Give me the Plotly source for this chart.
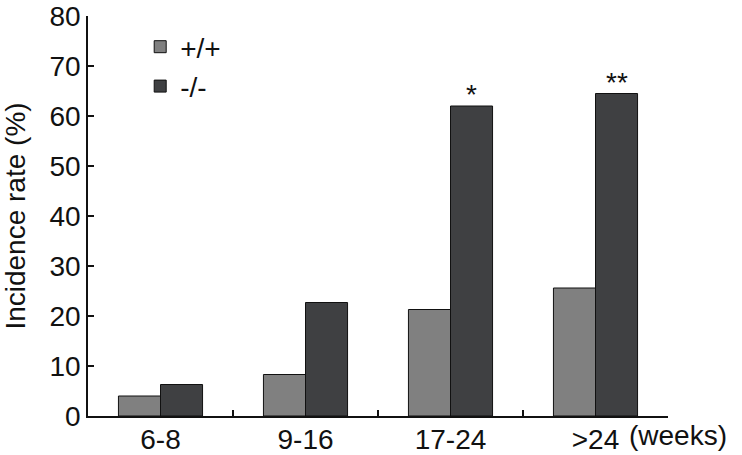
import plotly.graph_objects as go

categories = ["6-8", "9-16", "17-24", ">24"]
wt_values = [4.0, 8.3, 21.3, 25.6]
ko_values = [6.3, 22.7, 62.0, 64.5]
series_names = ["+/+", "-/-"]
sig_labels = ["", "", "*", "**"]
y_ticks = [0, 10, 20, 30, 40, 50, 60, 70, 80]

FONT = "Liberation Sans, Arial, Helvetica, sans-serif"
FS = 28

fig = go.Figure()
fig.add_trace(go.Bar(x=categories, y=wt_values, name=series_names[0],
                     marker=dict(color="#808080", line=dict(color="#111111", width=1)),
                     legendgroup="a"))
fig.add_trace(go.Bar(x=categories, y=ko_values, name=series_names[1],
                     marker=dict(color="#3f4042", line=dict(color="#111111", width=1)),
                     legendgroup="b"))

for cat, val, lab in zip(categories, ko_values, sig_labels):
    if lab:
        fig.add_annotation(x=cat, y=val, text=lab, showarrow=False, xref="x", yref="y",
                           xshift=21, yanchor="bottom", yshift=-6,
                           font=dict(family=FONT, size=FS, color="#111111"))

fig.add_annotation(x=0.93, y=0, xref="paper", yref="paper", text="(weeks)",
                   showarrow=False, xanchor="left", yanchor="top", yshift=-2,
                   font=dict(family=FONT, size=FS, color="#111111"))

fig.update_layout(
    width=742, height=455,
    margin=dict(l=88, r=74, t=16, b=39, autoexpand=False),
    plot_bgcolor="white", paper_bgcolor="white",
    barmode="group", bargap=0.42, bargroupgap=0,
    font=dict(family=FONT, size=FS, color="#111111"),
    legend=dict(x=0.09, y=0.985, xanchor="left", yanchor="top",
                bgcolor="rgba(0,0,0,0)", traceorder="grouped", tracegroupgap=0,
                font=dict(family=FONT, size=FS, color="#111111"), itemwidth=30),
    showlegend=True,
)
fig.update_xaxes(showline=True, linecolor="#111111", linewidth=1.5, automargin=False,
                 ticks="inside", tickson="boundaries", ticklen=6, tickcolor="#111111",
                 tickwidth=1.5, showgrid=False, zeroline=False, ticklabelstandoff=-2,
                 tickfont=dict(family=FONT, size=FS, color="#111111"))
fig.update_yaxes(range=[0, 80], tickvals=y_ticks, showline=True, linecolor="#111111",
                 linewidth=1.5, ticks="inside", ticklen=6, tickcolor="#111111", tickwidth=1.5,
                 showgrid=False, zeroline=False, automargin=False,
                 title=dict(text="Incidence rate (%)", standoff=18,
                            font=dict(family=FONT, size=FS, color="#111111")),
                 tickfont=dict(family=FONT, size=FS, color="#111111"))

fig.write_html("out.html", config={"displayModeBar": False},
               post_script="document.body.style.margin='0';")
